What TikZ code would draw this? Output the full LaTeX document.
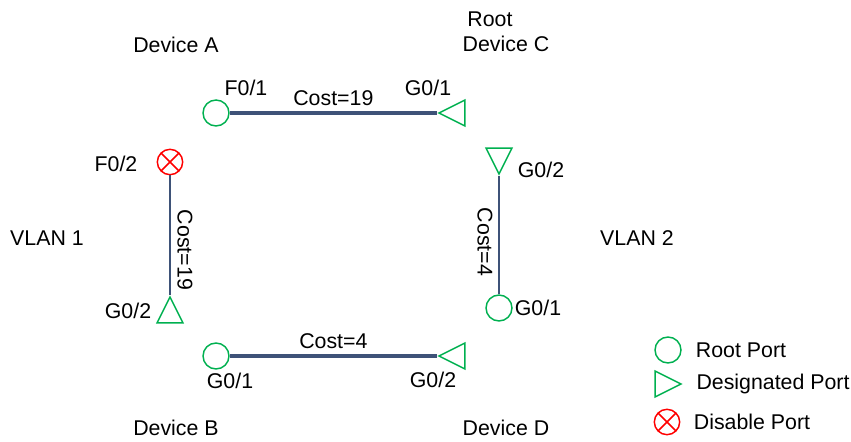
\documentclass[tikz,border=0pt]{standalone}
\usepackage{fontspec}
\setmainfont{Liberation Sans}
\usetikzlibrary{shapes.geometric}
\definecolor{portgreen}{RGB}{0,176,80}
\definecolor{linkblue}{RGB}{62,82,120}

\begin{document}
\begin{tikzpicture}[x=0.75pt,y=-0.75pt,
    font=\fontsize{16}{19}\selectfont,
    rootport/.style={circle,draw=portgreen,line width=1.1pt,minimum size=19.5pt,inner sep=0pt},
    desport/.style={isosceles triangle,isosceles triangle stretches,draw=portgreen,line width=1.1pt,
        minimum width=19.5pt,minimum height=19.5pt,inner sep=0pt,shape border rotate=#1,anchor=apex},
    offport/.style={circle,draw=red,line width=1.1pt,minimum size=19pt,inner sep=0pt,
        path picture={\draw[red,line width=1.1pt]
            (path picture bounding box.north west) -- (path picture bounding box.south east)
            (path picture bounding box.south west) -- (path picture bounding box.north east);}},
    link/.style={draw=linkblue,line width=2.4pt},
    thinlink/.style={draw=linkblue,line width=0.8pt}]

\useasboundingbox (0,0) rectangle (851,442);

% devices and vlans
\node (devA) at (176,45) {Device A};
\node (root) at (490,19) {Root};
\node (devC) at (506,44) {Device C};
\node (devB) at (176,428) {Device B};
\node (devD) at (506,428) {Device D};
\node (vlan1) at (47,238) {VLAN 1};
\node (vlan2) at (637,238) {VLAN 2};

% ports (triangles placed by their apex)
\node[rootport] (aF01) at (216,113) {};
\node[desport=180] (cG01) at (437,113) {};
\node[offport] (aF02) at (170,162) {};
\node[desport=90] (bG02) at (170,295) {};
\node[desport=-90] (cG02) at (499,176) {};
\node[rootport] (dG01) at (499,308) {};
\node[rootport] (bG01) at (216,356) {};
\node[desport=180] (dG02) at (437,356) {};

% port names
\node (laF01) at (246,88) {F0/1};
\node (lcG01) at (428,88) {G0/1};
\node (laF02) at (116,164) {F0/2};
\node (lbG02) at (128,311) {G0/2};
\node (lcG02) at (541,170) {G0/2};
\node (ldG01) at (538,308) {G0/1};
\node (lbG01) at (230,381) {G0/1};
\node (ldG02) at (433,380) {G0/2};

% links
\draw[link] (aF01) -- (cG01.apex) node[midway,above=1pt] (costAC) {Cost=19};
\draw[thinlink] (aF02) -- (bG02.apex);
\draw[thinlink] (cG02.apex) -- (dG01);
\draw[link] (bG01) -- (dG02.apex) node[midway,above=1pt] (costBD) {Cost=4};
\node[rotate=-90] (costAB) at (185,250) {Cost=19};
\node[rotate=-90] (costCD) at (485,242) {Cost=4};

% legend
\node[rootport] (keyroot) at (668,350) {};
\node[desport=0] (keydes) at (683,384) {};
\node[offport] (keyoff) at (667,422) {};
\node (lkeyroot) at (741,350) {Root Port};
\node (lkeydes) at (773,384) {Designated Port};
\node (lkeyoff) at (752,422) {Disable Port};
\end{tikzpicture}
\end{document}
